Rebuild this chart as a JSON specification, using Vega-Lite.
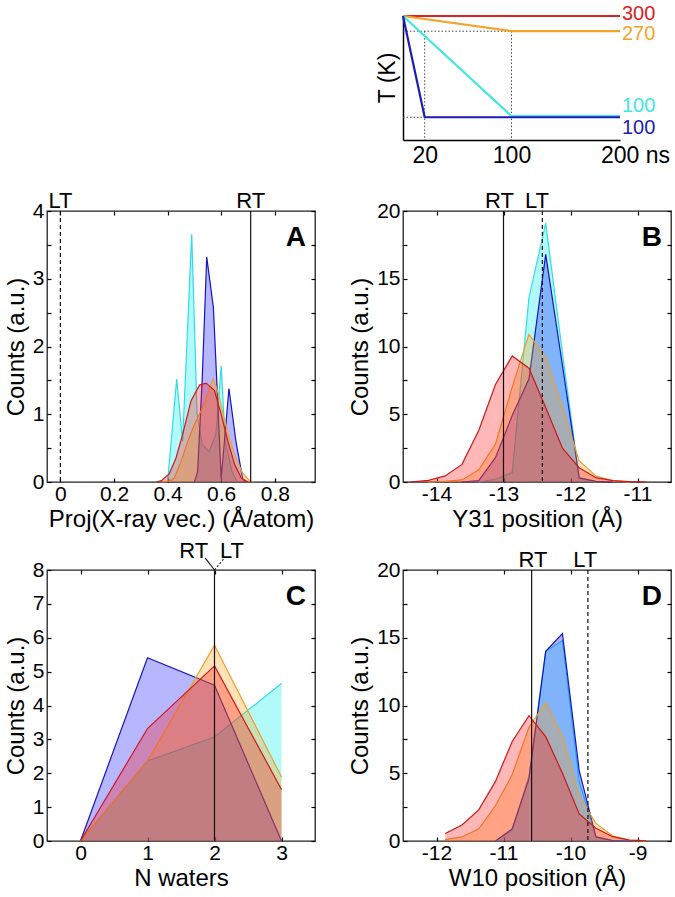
{
 "$schema": "https://vega.github.io/schema/vega-lite/v6.json",
 "background": "white",
 "padding": {"left": 3, "top": 3, "right": 0, "bottom": 0},
 "columns": 2,
 "align": "each",
 "bounds": "full",
 "spacing": {"row": 7, "column": 30},
 "config": {
  "font": "Liberation Sans",
  "view": {"stroke": "#222", "strokeWidth": 1.3},
  "axis": {"labelFont": "Liberation Sans", "labelFontSize": 21, "labelColor": "black", "titleFont": "Liberation Sans", "titleFontSize": 24, "titleFontWeight": "normal", "titleColor": "black", "tickColor": "black", "tickWidth": 1.2, "domainColor": "black", "grid": false, "labelFlush": false, "labelOverlap": false},
  "text": {"font": "Liberation Sans", "color": "black"}
 },
 "datasets": {
  "T": [
   {"x": 0, "y": 300, "s": "red"}, {"x": 200, "y": 300, "s": "red"},
   {"x": 0, "y": 300, "s": "orange"}, {"x": 100, "y": 270, "s": "orange"}, {"x": 200, "y": 270, "s": "orange"},
   {"x": 0, "y": 300, "s": "cyan"}, {"x": 100, "y": 102, "s": "cyan"}, {"x": 200, "y": 102, "s": "cyan"},
   {"x": 0, "y": 300, "s": "blue"}, {"x": 20, "y": 100, "s": "blue"}, {"x": 200, "y": 100, "s": "blue"}
  ],
  "Tdot": [
   {"x": 20, "x2": 20, "y": 270, "y2": 55},
   {"x": 100, "x2": 100, "y": 270, "y2": 55},
   {"x": 0, "x2": 100, "y": 270, "y2": 270},
   {"x": 0, "x2": 20, "y": 100, "y2": 100}
  ],
  "Tlab": [
   {"x": 200, "y": 304, "t": "300", "s": "red"},
   {"x": 200, "y": 264, "t": "270", "s": "orange"},
   {"x": 200, "y": 121.2, "t": "100", "s": "cyan"},
   {"x": 200, "y": 79.7, "t": "100", "s": "blue"}
  ],
  "A": [
   {"x": 0.40, "y": 0, "s": "cyan"}, {"x": 0.434, "y": 1.52, "s": "cyan"}, {"x": 0.456, "y": 0.6, "s": "cyan"}, {"x": 0.49, "y": 3.66, "s": "cyan"}, {"x": 0.51, "y": 1.0, "s": "cyan"}, {"x": 0.53, "y": 0.55, "s": "cyan"}, {"x": 0.555, "y": 0.45, "s": "cyan"}, {"x": 0.58, "y": 0.7, "s": "cyan"}, {"x": 0.60, "y": 1.71, "s": "cyan"}, {"x": 0.615, "y": 0.6, "s": "cyan"}, {"x": 0.64, "y": 0.15, "s": "cyan"}, {"x": 0.66, "y": 0, "s": "cyan"},
   {"x": 0.50, "y": 0, "s": "blue"}, {"x": 0.512, "y": 0.15, "s": "blue"}, {"x": 0.529, "y": 1.5, "s": "blue"}, {"x": 0.546, "y": 3.32, "s": "blue"}, {"x": 0.571, "y": 2.57, "s": "blue"}, {"x": 0.60, "y": 0.05, "s": "blue"}, {"x": 0.629, "y": 1.38, "s": "blue"}, {"x": 0.655, "y": 0.6, "s": "blue"}, {"x": 0.68, "y": 0.05, "s": "blue"}, {"x": 0.69, "y": 0, "s": "blue"},
   {"x": 0.38, "y": 0, "s": "orange"}, {"x": 0.41, "y": 0.02, "s": "orange"}, {"x": 0.425, "y": 0.06, "s": "orange"}, {"x": 0.45, "y": 0.3, "s": "orange"}, {"x": 0.475, "y": 0.6, "s": "orange"}, {"x": 0.50, "y": 0.85, "s": "orange"}, {"x": 0.525, "y": 1.05, "s": "orange"}, {"x": 0.55, "y": 1.3, "s": "orange"}, {"x": 0.57, "y": 1.53, "s": "orange"}, {"x": 0.59, "y": 1.3, "s": "orange"}, {"x": 0.61, "y": 0.95, "s": "orange"}, {"x": 0.63, "y": 0.65, "s": "orange"}, {"x": 0.65, "y": 0.4, "s": "orange"}, {"x": 0.68, "y": 0.13, "s": "orange"}, {"x": 0.706, "y": 0.02, "s": "orange"}, {"x": 0.72, "y": 0, "s": "orange"},
   {"x": 0.36, "y": 0, "s": "red"}, {"x": 0.38, "y": 0.03, "s": "red"}, {"x": 0.406, "y": 0.12, "s": "red"}, {"x": 0.431, "y": 0.35, "s": "red"}, {"x": 0.456, "y": 0.7, "s": "red"}, {"x": 0.4875, "y": 1.2, "s": "red"}, {"x": 0.519, "y": 1.43, "s": "red"}, {"x": 0.544, "y": 1.46, "s": "red"}, {"x": 0.575, "y": 1.35, "s": "red"}, {"x": 0.60, "y": 1.0, "s": "red"}, {"x": 0.625, "y": 0.6, "s": "red"}, {"x": 0.65, "y": 0.26, "s": "red"}, {"x": 0.675, "y": 0.06, "s": "red"}, {"x": 0.70, "y": 0, "s": "red"}
  ],
  "B": [
   {"x": -13.37, "y": 0, "s": "cyan"}, {"x": -13.12, "y": 0.2, "s": "cyan"}, {"x": -12.87, "y": 0.7, "s": "cyan"}, {"x": -12.62, "y": 13.6, "s": "cyan"}, {"x": -12.37, "y": 19.1, "s": "cyan"}, {"x": -12.12, "y": 9.5, "s": "cyan"}, {"x": -11.87, "y": 0.3, "s": "cyan"}, {"x": -11.62, "y": 0, "s": "cyan"},
   {"x": -13.62, "y": 0, "s": "blue"}, {"x": -13.37, "y": 0.1, "s": "blue"}, {"x": -13.12, "y": 1.8, "s": "blue"}, {"x": -12.87, "y": 4.9, "s": "blue"}, {"x": -12.62, "y": 7.6, "s": "blue"}, {"x": -12.37, "y": 16.8, "s": "blue"}, {"x": -12.12, "y": 8.6, "s": "blue"}, {"x": -11.87, "y": 0.3, "s": "blue"}, {"x": -11.62, "y": 0.05, "s": "blue"}, {"x": -11.37, "y": 0, "s": "blue"},
   {"x": -14.12, "y": 0, "s": "orange"}, {"x": -13.87, "y": 0.05, "s": "orange"}, {"x": -13.62, "y": 0.15, "s": "orange"}, {"x": -13.37, "y": 0.9, "s": "orange"}, {"x": -13.12, "y": 2.8, "s": "orange"}, {"x": -12.87, "y": 7.0, "s": "orange"}, {"x": -12.62, "y": 10.9, "s": "orange"}, {"x": -12.37, "y": 9.2, "s": "orange"}, {"x": -12.12, "y": 5.5, "s": "orange"}, {"x": -11.87, "y": 1.55, "s": "orange"}, {"x": -11.62, "y": 0.44, "s": "orange"}, {"x": -11.37, "y": 0.1, "s": "orange"}, {"x": -11.12, "y": 0, "s": "orange"},
   {"x": -14.4, "y": 0, "s": "red"}, {"x": -14.12, "y": 0.12, "s": "red"}, {"x": -13.87, "y": 0.45, "s": "red"}, {"x": -13.62, "y": 1.3, "s": "red"}, {"x": -13.37, "y": 3.8, "s": "red"}, {"x": -13.12, "y": 7.2, "s": "red"}, {"x": -12.87, "y": 9.3, "s": "red"}, {"x": -12.62, "y": 8.4, "s": "red"}, {"x": -12.37, "y": 5.5, "s": "red"}, {"x": -12.12, "y": 2.5, "s": "red"}, {"x": -11.87, "y": 1.05, "s": "red"}, {"x": -11.62, "y": 0.32, "s": "red"}, {"x": -11.37, "y": 0.1, "s": "red"}, {"x": -11.12, "y": 0.03, "s": "red"}, {"x": -10.87, "y": 0, "s": "red"}
  ],
  "C": [
   {"x": 0, "y": 0, "s": "cyan"}, {"x": 1, "y": 2.36, "s": "cyan"}, {"x": 2, "y": 3.07, "s": "cyan"}, {"x": 3, "y": 4.65, "s": "cyan"},
   {"x": 0, "y": 0, "s": "blue"}, {"x": 1, "y": 5.41, "s": "blue"}, {"x": 2, "y": 4.6, "s": "blue"}, {"x": 3, "y": 0, "s": "blue"},
   {"x": 0, "y": 0, "s": "orange"}, {"x": 1, "y": 2.36, "s": "orange"}, {"x": 2, "y": 5.78, "s": "orange"}, {"x": 3, "y": 1.89, "s": "orange"},
   {"x": 0, "y": 0, "s": "red"}, {"x": 1, "y": 3.32, "s": "red"}, {"x": 2, "y": 5.17, "s": "red"}, {"x": 3, "y": 1.52, "s": "red"}
  ],
  "D": [
   {"x": -11.12, "y": 0, "s": "cyan"}, {"x": -10.87, "y": 0.8, "s": "cyan"}, {"x": -10.62, "y": 4.8, "s": "cyan"}, {"x": -10.37, "y": 14.0, "s": "cyan"}, {"x": -10.12, "y": 14.8, "s": "cyan"}, {"x": -9.87, "y": 4.4, "s": "cyan"}, {"x": -9.62, "y": 0.3, "s": "cyan"}, {"x": -9.37, "y": 0.03, "s": "cyan"}, {"x": -9.12, "y": 0, "s": "cyan"},
   {"x": -11.12, "y": 0, "s": "blue"}, {"x": -10.87, "y": 0.9, "s": "blue"}, {"x": -10.62, "y": 4.6, "s": "blue"}, {"x": -10.37, "y": 14.0, "s": "blue"}, {"x": -10.12, "y": 15.3, "s": "blue"}, {"x": -9.87, "y": 5.2, "s": "blue"}, {"x": -9.62, "y": 0.3, "s": "blue"}, {"x": -9.37, "y": 0.03, "s": "blue"}, {"x": -9.12, "y": 0, "s": "blue"},
   {"x": -11.87, "y": 0.1, "s": "orange"}, {"x": -11.62, "y": 0.3, "s": "orange"}, {"x": -11.37, "y": 0.9, "s": "orange"}, {"x": -11.12, "y": 2.6, "s": "orange"}, {"x": -10.87, "y": 4.9, "s": "orange"}, {"x": -10.62, "y": 8.4, "s": "orange"}, {"x": -10.37, "y": 10.2, "s": "orange"}, {"x": -10.12, "y": 7.7, "s": "orange"}, {"x": -9.87, "y": 3.3, "s": "orange"}, {"x": -9.62, "y": 1.3, "s": "orange"}, {"x": -9.37, "y": 0.37, "s": "orange"}, {"x": -9.12, "y": 0.07, "s": "orange"}, {"x": -8.87, "y": 0.01, "s": "orange"},
   {"x": -11.87, "y": 0.55, "s": "red"}, {"x": -11.62, "y": 1.18, "s": "red"}, {"x": -11.37, "y": 2.3, "s": "red"}, {"x": -11.12, "y": 4.4, "s": "red"}, {"x": -10.87, "y": 7.35, "s": "red"}, {"x": -10.62, "y": 9.25, "s": "red"}, {"x": -10.37, "y": 7.7, "s": "red"}, {"x": -10.12, "y": 5.0, "s": "red"}, {"x": -9.87, "y": 2.0, "s": "red"}, {"x": -9.62, "y": 0.94, "s": "red"}, {"x": -9.37, "y": 0.32, "s": "red"}, {"x": -9.12, "y": 0.07, "s": "red"}, {"x": -8.87, "y": 0.02, "s": "red"}
  ]
 },
 "concat": [
  {"width": 10, "height": 167, "view": {"stroke": null}, "data": {"values": [{}]}, "mark": {"type": "point", "opacity": 0}},
  {"width": 217, "height": 125, "view": {"stroke": null},
   "resolve": {"axis": {"x": "independent", "y": "independent"}},
   "layer": [
    {"data": {"name": "Tdot"}, "mark": {"type": "rule", "color": "#444", "strokeWidth": 1, "strokeDash": [1.5, 2]},
     "encoding": {
      "x": {"field": "x", "type": "quantitative", "scale": {"domain": [0, 200], "nice": false, "zero": false}, "axis": {"orient": "bottom", "values": [20, 100, 200], "ticks": false, "domainWidth": 1.5, "labelFontSize": 23, "labelPadding": 4, "title": null, "labelExpr": "datum.value == 200 ? '200 ns' : toString(datum.value)", "labelOffset": {"condition": {"test": "datum.value == 200", "value": 15}, "value": 0}}},
      "y": {"field": "y", "type": "quantitative", "scale": {"domain": [55, 302], "nice": false, "zero": false}, "axis": {"orient": "left", "ticks": false, "labels": false, "domainWidth": 1.5, "title": "T (K)", "titleFontSize": 23, "titlePadding": 4}},
      "x2": {"field": "x2"}, "y2": {"field": "y2"}}},
    {"data": {"name": "T"}, "mark": {"type": "line", "strokeWidth": 2.2},
     "encoding": {
      "x": {"field": "x", "type": "quantitative", "scale": {"domain": [0, 200], "nice": false, "zero": false}, "axis": null},
      "y": {"field": "y", "type": "quantitative", "scale": {"domain": [55, 302], "nice": false, "zero": false}, "axis": null},
      "color": {"field": "s", "type": "nominal", "scale": {"domain": ["red", "orange", "cyan", "blue"], "range": ["#dd2020", "#f4a428", "#40e6e6", "#1c1cb8"]}, "legend": null}}},
    {"data": {"name": "Tlab"}, "mark": {"type": "text", "fontSize": 20, "align": "left", "baseline": "middle", "dx": 2},
     "encoding": {
      "x": {"field": "x", "type": "quantitative", "scale": {"domain": [0, 200], "nice": false, "zero": false}, "axis": null},
      "y": {"field": "y", "type": "quantitative", "scale": {"domain": [55, 302], "nice": false, "zero": false}, "axis": null},
      "text": {"field": "t"},
      "color": {"field": "s", "type": "nominal", "scale": {"domain": ["red", "orange", "cyan", "blue"], "range": ["#dd2020", "#f4a428", "#40e6e6", "#1c1cb8"]}, "legend": null}}}
   ]},
  {"width": 268, "height": 271, "data": {"name": "A"},
   "resolve": {"axis": {"x": "independent", "y": "independent"}},
   "layer": [
    {"transform": [{"filter": "datum.s == 'cyan'"}], "mark": {"type": "area", "color": "#00eeee", "fillOpacity": 0.3, "line": {"color": "#30dde6", "strokeWidth": 1.2}},
     "encoding": {
      "x": {"field": "x", "type": "quantitative", "scale": {"domain": [-0.05, 0.95], "nice": false, "zero": false}, "axis": {"orient": "bottom", "values": [0, 0.2, 0.4, 0.6, 0.8], "labelExpr": "datum.value == 0 ? '0' : format(datum.value, '.1f')", "title": "Proj(X-ray vec.) (Å/atom)", "domain": false, "tickSize": -4, "labelPadding": 5, "titlePadding": 3}},
      "y": {"field": "y", "type": "quantitative", "scale": {"domain": [0, 4], "nice": false, "zero": false}, "axis": {"orient": "left", "values": [0, 0.5, 1, 1.5, 2, 2.5, 3, 3.5, 4], "labelExpr": "datum.value % 1 == 0 ? toString(datum.value) : ''", "title": "Counts (a.u.)", "domain": false, "tickSize": -4, "labelPadding": 7, "titlePadding": 4}}}},
    {"transform": [{"filter": "datum.s == 'blue'"}], "mark": {"type": "area", "color": "#1010ff", "fillOpacity": 0.3, "line": {"color": "#1515c0", "strokeWidth": 1.2}},
     "encoding": {
      "x": {"field": "x", "type": "quantitative", "scale": {"domain": [-0.05, 0.95], "nice": false, "zero": false}, "axis": {"orient": "top", "values": [0, 0.2, 0.4, 0.6, 0.8], "labels": false, "title": null, "domain": false, "tickSize": -4}},
      "y": {"field": "y", "type": "quantitative", "scale": {"domain": [0, 4], "nice": false, "zero": false}, "axis": {"orient": "right", "values": [0, 0.5, 1, 1.5, 2, 2.5, 3, 3.5, 4], "labels": false, "title": null, "domain": false, "tickSize": -4}}}},
    {"transform": [{"filter": "datum.s == 'orange'"}], "mark": {"type": "area", "color": "#ffa010", "fillOpacity": 0.3, "line": {"color": "#eba030", "strokeWidth": 1.2}},
     "encoding": {
      "x": {"field": "x", "type": "quantitative", "scale": {"domain": [-0.05, 0.95], "nice": false, "zero": false}, "axis": null},
      "y": {"field": "y", "type": "quantitative", "scale": {"domain": [0, 4], "nice": false, "zero": false}, "axis": null}}},
    {"transform": [{"filter": "datum.s == 'red'"}], "mark": {"type": "area", "color": "#ff1010", "fillOpacity": 0.3, "line": {"color": "#d01818", "strokeWidth": 1.2}},
     "encoding": {
      "x": {"field": "x", "type": "quantitative", "scale": {"domain": [-0.05, 0.95], "nice": false, "zero": false}, "axis": null},
      "y": {"field": "y", "type": "quantitative", "scale": {"domain": [0, 4], "nice": false, "zero": false}, "axis": null}}},
    {"data": {"values": [{"x": 0.71}]}, "mark": {"type": "rule", "color": "#111", "strokeWidth": 1.2},
     "encoding": {"x": {"field": "x", "type": "quantitative", "scale": {"domain": [-0.05, 0.95], "nice": false, "zero": false}, "axis": null}}},
    {"data": {"values": [{"x": 0}]}, "mark": {"type": "rule", "color": "#111", "strokeWidth": 1.2, "strokeDash": [4, 3]},
     "encoding": {"x": {"field": "x", "type": "quantitative", "scale": {"domain": [-0.05, 0.95], "nice": false, "zero": false}, "axis": null}}},
    {"data": {"values": [{"x": 0, "t": "LT"}, {"x": 0.71, "t": "RT"}]}, "mark": {"type": "text", "fontSize": 22, "baseline": "alphabetic", "dy": -3},
     "encoding": {
      "x": {"field": "x", "type": "quantitative", "scale": {"domain": [-0.05, 0.95], "nice": false, "zero": false}, "axis": null},
      "y": {"datum": 4, "type": "quantitative", "scale": {"domain": [0, 4], "nice": false, "zero": false}, "axis": null},
      "text": {"field": "t"}}},
    {"data": {"values": [{"t": "A"}]}, "mark": {"type": "text", "fontSize": 28, "fontWeight": "bold", "align": "right", "baseline": "top", "dx": -9, "dy": 13},
     "encoding": {
      "x": {"datum": 0.95, "type": "quantitative", "scale": {"domain": [-0.05, 0.95], "nice": false, "zero": false}, "axis": null},
      "y": {"datum": 4, "type": "quantitative", "scale": {"domain": [0, 4], "nice": false, "zero": false}, "axis": null},
      "text": {"field": "t"}}}
   ]},
  {"width": 268, "height": 271, "data": {"name": "B"},
   "resolve": {"axis": {"x": "independent", "y": "independent"}},
   "layer": [
    {"transform": [{"filter": "datum.s == 'cyan'"}], "mark": {"type": "area", "color": "#00eeee", "fillOpacity": 0.3, "line": {"color": "#30dde6", "strokeWidth": 1.2}},
     "encoding": {
      "x": {"field": "x", "type": "quantitative", "scale": {"domain": [-14.5, -10.5], "nice": false, "zero": false}, "axis": {"orient": "bottom", "values": [-14, -13, -12, -11], "labelExpr": "toString(datum.value)", "title": "Y31 position (Å)", "domain": false, "tickSize": -4, "labelPadding": 5, "titlePadding": 3}},
      "y": {"field": "y", "type": "quantitative", "scale": {"domain": [0, 20], "nice": false, "zero": false}, "axis": {"orient": "left", "values": [0, 2.5, 5, 7.5, 10, 12.5, 15, 17.5, 20], "labelExpr": "datum.value % 5 == 0 ? toString(datum.value) : ''", "title": "Counts (a.u.)", "domain": false, "tickSize": -4, "labelPadding": 7, "titlePadding": 4}}}},
    {"transform": [{"filter": "datum.s == 'blue'"}], "mark": {"type": "area", "color": "#1010ff", "fillOpacity": 0.3, "line": {"color": "#1515c0", "strokeWidth": 1.2}},
     "encoding": {
      "x": {"field": "x", "type": "quantitative", "scale": {"domain": [-14.5, -10.5], "nice": false, "zero": false}, "axis": {"orient": "top", "values": [-14, -13, -12, -11], "labels": false, "title": null, "domain": false, "tickSize": -4}},
      "y": {"field": "y", "type": "quantitative", "scale": {"domain": [0, 20], "nice": false, "zero": false}, "axis": {"orient": "right", "values": [0, 2.5, 5, 7.5, 10, 12.5, 15, 17.5, 20], "labels": false, "title": null, "domain": false, "tickSize": -4}}}},
    {"transform": [{"filter": "datum.s == 'orange'"}], "mark": {"type": "area", "color": "#ffa010", "fillOpacity": 0.3, "line": {"color": "#eba030", "strokeWidth": 1.2}},
     "encoding": {
      "x": {"field": "x", "type": "quantitative", "scale": {"domain": [-14.5, -10.5], "nice": false, "zero": false}, "axis": null},
      "y": {"field": "y", "type": "quantitative", "scale": {"domain": [0, 20], "nice": false, "zero": false}, "axis": null}}},
    {"transform": [{"filter": "datum.s == 'red'"}], "mark": {"type": "area", "color": "#ff1010", "fillOpacity": 0.3, "line": {"color": "#d01818", "strokeWidth": 1.2}},
     "encoding": {
      "x": {"field": "x", "type": "quantitative", "scale": {"domain": [-14.5, -10.5], "nice": false, "zero": false}, "axis": null},
      "y": {"field": "y", "type": "quantitative", "scale": {"domain": [0, 20], "nice": false, "zero": false}, "axis": null}}},
    {"data": {"values": [{"x": -13.0}]}, "mark": {"type": "rule", "color": "#111", "strokeWidth": 1.2},
     "encoding": {"x": {"field": "x", "type": "quantitative", "scale": {"domain": [-14.5, -10.5], "nice": false, "zero": false}, "axis": null}}},
    {"data": {"values": [{"x": -12.42}]}, "mark": {"type": "rule", "color": "#111", "strokeWidth": 1.2, "strokeDash": [4, 3]},
     "encoding": {"x": {"field": "x", "type": "quantitative", "scale": {"domain": [-14.5, -10.5], "nice": false, "zero": false}, "axis": null}}},
    {"data": {"values": [{"x": -13.06, "t": "RT"}, {"x": -12.5, "t": "LT"}]}, "mark": {"type": "text", "fontSize": 22, "baseline": "alphabetic", "dy": -3},
     "encoding": {
      "x": {"field": "x", "type": "quantitative", "scale": {"domain": [-14.5, -10.5], "nice": false, "zero": false}, "axis": null},
      "y": {"datum": 20, "type": "quantitative", "scale": {"domain": [0, 20], "nice": false, "zero": false}, "axis": null},
      "text": {"field": "t"}}},
    {"data": {"values": [{"t": "B"}]}, "mark": {"type": "text", "fontSize": 28, "fontWeight": "bold", "align": "right", "baseline": "top", "dx": -9, "dy": 13},
     "encoding": {
      "x": {"datum": -10.5, "type": "quantitative", "scale": {"domain": [-14.5, -10.5], "nice": false, "zero": false}, "axis": null},
      "y": {"datum": 20, "type": "quantitative", "scale": {"domain": [0, 20], "nice": false, "zero": false}, "axis": null},
      "text": {"field": "t"}}}
   ]},
  {"width": 268, "height": 271, "data": {"name": "C"},
   "resolve": {"axis": {"x": "independent", "y": "independent"}},
   "layer": [
    {"transform": [{"filter": "datum.s == 'cyan'"}], "mark": {"type": "area", "color": "#00eeee", "fillOpacity": 0.3, "line": {"color": "#30dde6", "strokeWidth": 1.2}},
     "encoding": {
      "x": {"field": "x", "type": "quantitative", "scale": {"domain": [-0.5, 3.5], "nice": false, "zero": false}, "axis": {"orient": "bottom", "values": [0, 1, 2, 3], "labelExpr": "toString(datum.value)", "title": "N waters", "domain": false, "tickSize": -4, "labelPadding": 5, "titlePadding": 3}},
      "y": {"field": "y", "type": "quantitative", "scale": {"domain": [0, 8], "nice": false, "zero": false}, "axis": {"orient": "left", "values": [0, 1, 2, 3, 4, 5, 6, 7, 8], "labelExpr": "toString(datum.value)", "title": "Counts (a.u.)", "domain": false, "tickSize": -4, "labelPadding": 7, "titlePadding": 4}}}},
    {"transform": [{"filter": "datum.s == 'blue'"}], "mark": {"type": "area", "color": "#1010ff", "fillOpacity": 0.3, "line": {"color": "#1515c0", "strokeWidth": 1.2}},
     "encoding": {
      "x": {"field": "x", "type": "quantitative", "scale": {"domain": [-0.5, 3.5], "nice": false, "zero": false}, "axis": {"orient": "top", "values": [0, 1, 2, 3], "labels": false, "title": null, "domain": false, "tickSize": -4}},
      "y": {"field": "y", "type": "quantitative", "scale": {"domain": [0, 8], "nice": false, "zero": false}, "axis": {"orient": "right", "values": [0, 1, 2, 3, 4, 5, 6, 7, 8], "labels": false, "title": null, "domain": false, "tickSize": -4}}}},
    {"transform": [{"filter": "datum.s == 'orange'"}], "mark": {"type": "area", "color": "#ffa010", "fillOpacity": 0.3, "line": {"color": "#eba030", "strokeWidth": 1.2}},
     "encoding": {
      "x": {"field": "x", "type": "quantitative", "scale": {"domain": [-0.5, 3.5], "nice": false, "zero": false}, "axis": null},
      "y": {"field": "y", "type": "quantitative", "scale": {"domain": [0, 8], "nice": false, "zero": false}, "axis": null}}},
    {"transform": [{"filter": "datum.s == 'red'"}], "mark": {"type": "area", "color": "#ff1010", "fillOpacity": 0.3, "line": {"color": "#d01818", "strokeWidth": 1.2}},
     "encoding": {
      "x": {"field": "x", "type": "quantitative", "scale": {"domain": [-0.5, 3.5], "nice": false, "zero": false}, "axis": null},
      "y": {"field": "y", "type": "quantitative", "scale": {"domain": [0, 8], "nice": false, "zero": false}, "axis": null}}},
    {"data": {"values": [{"x": 2}]}, "mark": {"type": "rule", "color": "#111", "strokeWidth": 1.2},
     "encoding": {"x": {"field": "x", "type": "quantitative", "scale": {"domain": [-0.5, 3.5], "nice": false, "zero": false}, "axis": null}}},
    {"data": {"values": [{"x": 2, "y": 8, "x2": 1.86, "y2": 8.36}]}, "mark": {"type": "rule", "color": "#111", "strokeWidth": 1.1},
     "encoding": {
      "x": {"field": "x", "type": "quantitative", "scale": {"domain": [-0.5, 3.5], "nice": false, "zero": false}, "axis": null},
      "y": {"field": "y", "type": "quantitative", "scale": {"domain": [0, 8], "nice": false, "zero": false}, "axis": null},
      "x2": {"field": "x2"}, "y2": {"field": "y2"}}},
    {"data": {"values": [{"x": 2, "y": 8, "x2": 2.15, "y2": 8.36}]}, "mark": {"type": "rule", "color": "#111", "strokeWidth": 1.1, "strokeDash": [2, 2]},
     "encoding": {
      "x": {"field": "x", "type": "quantitative", "scale": {"domain": [-0.5, 3.5], "nice": false, "zero": false}, "axis": null},
      "y": {"field": "y", "type": "quantitative", "scale": {"domain": [0, 8], "nice": false, "zero": false}, "axis": null},
      "x2": {"field": "x2"}, "y2": {"field": "y2"}}},
    {"data": {"values": [{"x": 1.69, "t": "RT"}, {"x": 2.26, "t": "LT"}]}, "mark": {"type": "text", "fontSize": 22, "baseline": "alphabetic", "dy": -12},
     "encoding": {
      "x": {"field": "x", "type": "quantitative", "scale": {"domain": [-0.5, 3.5], "nice": false, "zero": false}, "axis": null},
      "y": {"datum": 8, "type": "quantitative", "scale": {"domain": [0, 8], "nice": false, "zero": false}, "axis": null},
      "text": {"field": "t"}}},
    {"data": {"values": [{"t": "C"}]}, "mark": {"type": "text", "fontSize": 28, "fontWeight": "bold", "align": "right", "baseline": "top", "dx": -9, "dy": 13},
     "encoding": {
      "x": {"datum": 3.5, "type": "quantitative", "scale": {"domain": [-0.5, 3.5], "nice": false, "zero": false}, "axis": null},
      "y": {"datum": 8, "type": "quantitative", "scale": {"domain": [0, 8], "nice": false, "zero": false}, "axis": null},
      "text": {"field": "t"}}}
   ]},
  {"width": 268, "height": 271, "data": {"name": "D"},
   "resolve": {"axis": {"x": "independent", "y": "independent"}},
   "layer": [
    {"transform": [{"filter": "datum.s == 'cyan'"}], "mark": {"type": "area", "color": "#00eeee", "fillOpacity": 0.3, "line": {"color": "#30dde6", "strokeWidth": 1.2}},
     "encoding": {
      "x": {"field": "x", "type": "quantitative", "scale": {"domain": [-12.5, -8.5], "nice": false, "zero": false}, "axis": {"orient": "bottom", "values": [-12, -11, -10, -9], "labelExpr": "toString(datum.value)", "title": "W10 position (Å)", "domain": false, "tickSize": -4, "labelPadding": 5, "titlePadding": 3}},
      "y": {"field": "y", "type": "quantitative", "scale": {"domain": [0, 20], "nice": false, "zero": false}, "axis": {"orient": "left", "values": [0, 2.5, 5, 7.5, 10, 12.5, 15, 17.5, 20], "labelExpr": "datum.value % 5 == 0 ? toString(datum.value) : ''", "title": "Counts (a.u.)", "domain": false, "tickSize": -4, "labelPadding": 7, "titlePadding": 4}}}},
    {"transform": [{"filter": "datum.s == 'blue'"}], "mark": {"type": "area", "color": "#1010ff", "fillOpacity": 0.3, "line": {"color": "#1515c0", "strokeWidth": 1.2}},
     "encoding": {
      "x": {"field": "x", "type": "quantitative", "scale": {"domain": [-12.5, -8.5], "nice": false, "zero": false}, "axis": {"orient": "top", "values": [-12, -11, -10, -9], "labels": false, "title": null, "domain": false, "tickSize": -4}},
      "y": {"field": "y", "type": "quantitative", "scale": {"domain": [0, 20], "nice": false, "zero": false}, "axis": {"orient": "right", "values": [0, 2.5, 5, 7.5, 10, 12.5, 15, 17.5, 20], "labels": false, "title": null, "domain": false, "tickSize": -4}}}},
    {"transform": [{"filter": "datum.s == 'orange'"}], "mark": {"type": "area", "color": "#ffa010", "fillOpacity": 0.3, "line": {"color": "#eba030", "strokeWidth": 1.2}},
     "encoding": {
      "x": {"field": "x", "type": "quantitative", "scale": {"domain": [-12.5, -8.5], "nice": false, "zero": false}, "axis": null},
      "y": {"field": "y", "type": "quantitative", "scale": {"domain": [0, 20], "nice": false, "zero": false}, "axis": null}}},
    {"transform": [{"filter": "datum.s == 'red'"}], "mark": {"type": "area", "color": "#ff1010", "fillOpacity": 0.3, "line": {"color": "#d01818", "strokeWidth": 1.2}},
     "encoding": {
      "x": {"field": "x", "type": "quantitative", "scale": {"domain": [-12.5, -8.5], "nice": false, "zero": false}, "axis": null},
      "y": {"field": "y", "type": "quantitative", "scale": {"domain": [0, 20], "nice": false, "zero": false}, "axis": null}}},
    {"data": {"values": [{"x": -10.58}]}, "mark": {"type": "rule", "color": "#111", "strokeWidth": 1.2},
     "encoding": {"x": {"field": "x", "type": "quantitative", "scale": {"domain": [-12.5, -8.5], "nice": false, "zero": false}, "axis": null}}},
    {"data": {"values": [{"x": -9.74}]}, "mark": {"type": "rule", "color": "#111", "strokeWidth": 1.2, "strokeDash": [4, 3]},
     "encoding": {"x": {"field": "x", "type": "quantitative", "scale": {"domain": [-12.5, -8.5], "nice": false, "zero": false}, "axis": null}}},
    {"data": {"values": [{"x": -10.56, "t": "RT"}, {"x": -9.78, "t": "LT"}]}, "mark": {"type": "text", "fontSize": 22, "baseline": "alphabetic", "dy": -3},
     "encoding": {
      "x": {"field": "x", "type": "quantitative", "scale": {"domain": [-12.5, -8.5], "nice": false, "zero": false}, "axis": null},
      "y": {"datum": 20, "type": "quantitative", "scale": {"domain": [0, 20], "nice": false, "zero": false}, "axis": null},
      "text": {"field": "t"}}},
    {"data": {"values": [{"t": "D"}]}, "mark": {"type": "text", "fontSize": 28, "fontWeight": "bold", "align": "right", "baseline": "top", "dx": -9, "dy": 13},
     "encoding": {
      "x": {"datum": -8.5, "type": "quantitative", "scale": {"domain": [-12.5, -8.5], "nice": false, "zero": false}, "axis": null},
      "y": {"datum": 20, "type": "quantitative", "scale": {"domain": [0, 20], "nice": false, "zero": false}, "axis": null},
      "text": {"field": "t"}}}
   ]}
 ]
}
